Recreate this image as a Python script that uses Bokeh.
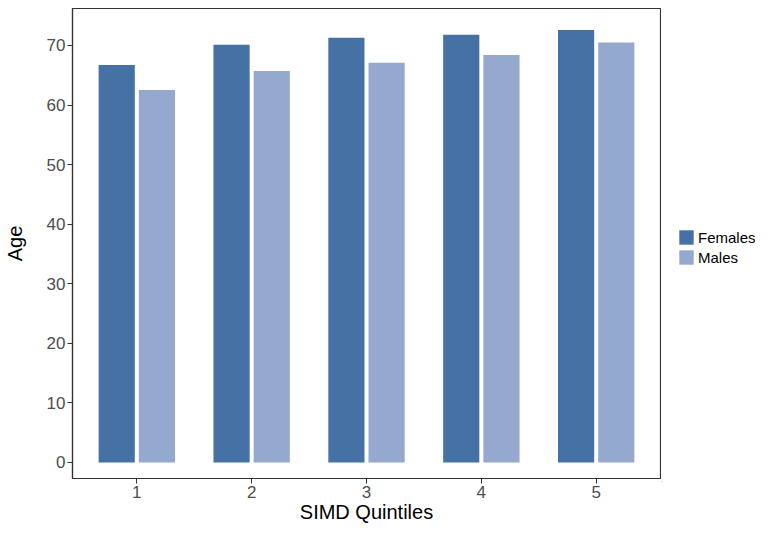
from bokeh.plotting import figure
from bokeh.layouts import row
from bokeh.models import ColumnDataSource, Legend, LegendItem, Range1d, FixedTicker
from bokeh.embed import file_html
from bokeh.resources import INLINE

# SIMD quintiles and mean age by sex
quintiles = [1, 2, 3, 4, 5]
quintile_labels = ["1", "2", "3", "4", "5"]
females = [66.7, 70.1, 71.3, 71.8, 72.6]
males = [62.5, 65.7, 67.1, 68.4, 70.5]
y_ticks = [0, 10, 20, 30, 40, 50, 60, 70]

FEMALE_COLOR = "#4671A5"
MALE_COLOR = "#95A8CE"
FONT = "Liberation Sans"

dodge = 0.175
bar_width = 0.315

src = ColumnDataSource(data=dict(
    xf=[q - dodge for q in quintiles],
    xm=[q + dodge for q in quintiles],
    females=females,
    males=males,
))

p = figure(frame_width=588, frame_height=470,
           min_border_left=71, min_border_right=1,
           min_border_top=8, min_border_bottom=46,
           x_range=Range1d(0.44, 5.56), y_range=Range1d(-2.69, 76.2),
           output_backend="svg", toolbar_location=None,
           x_axis_label="SIMD Quintiles", y_axis_label="Age")

p.vbar(x="xf", top="females", bottom=0, width=bar_width, source=src,
       fill_color=FEMALE_COLOR, line_color=None)
p.vbar(x="xm", top="males", bottom=0, width=bar_width, source=src,
       fill_color=MALE_COLOR, line_color=None)

p.xgrid.visible = False
p.ygrid.visible = False
p.outline_line_color = "#333333"
p.outline_line_width = 1.2
p.background_fill_color = "white"
p.border_fill_color = "white"

p.xaxis.ticker = FixedTicker(ticks=quintiles)
p.xaxis.major_label_overrides = {q: lab for q, lab in zip(quintiles, quintile_labels)}
p.yaxis.ticker = FixedTicker(ticks=y_ticks)

for ax in (p.xaxis, p.yaxis):
    ax.axis_line_color = "#333333"
    ax.axis_line_width = 1.2
    ax.major_tick_line_color = "#333333"
    ax.major_tick_in = 0
    ax.major_tick_out = 5
    ax.minor_tick_line_color = None
    ax.major_label_text_font = FONT
    ax.major_label_text_font_size = "17px"
    ax.major_label_text_color = "#4D4D4D"
    ax.axis_label_text_font = FONT
    ax.axis_label_text_font_size = "20px"
    ax.axis_label_text_font_style = "normal"
    ax.axis_label_text_color = "black"
    ax.major_label_standoff = 2

p.xaxis.axis_label_standoff = 0
p.yaxis.axis_label_standoff = 18

# legend lives in a narrow companion figure to the right of the panel;
# its bars sit outside the visible range and only feed the legend swatches
leg = figure(width=94, height=528, min_border=0,
             x_range=Range1d(100, 101), y_range=Range1d(100, 101),
             output_backend="svg", toolbar_location=None)
leg.axis.visible = False
leg.grid.visible = False
leg.outline_line_color = None
lf = leg.vbar(x="xf", top="females", width=bar_width, source=src,
              fill_color=FEMALE_COLOR, line_color=None)
lm = leg.vbar(x="xm", top="males", width=bar_width, source=src,
              fill_color=MALE_COLOR, line_color=None)

legend = Legend(items=[
    LegendItem(label="Females", renderers=[lf]),
    LegendItem(label="Males", renderers=[lm]),
], location=(16, 215))
legend.border_line_color = None
legend.background_fill_alpha = 0
legend.margin = 0
legend.padding = 0
legend.spacing = 2
legend.glyph_width = 18
legend.glyph_height = 18
legend.label_height = 18
legend.label_standoff = 3
legend.label_text_font = FONT
legend.label_text_font_size = "15px"
legend.label_text_color = "black"
leg.add_layout(legend)

layout = row(p, leg, spacing=0)
open("out.html", "w").write(file_html(layout, INLINE))
